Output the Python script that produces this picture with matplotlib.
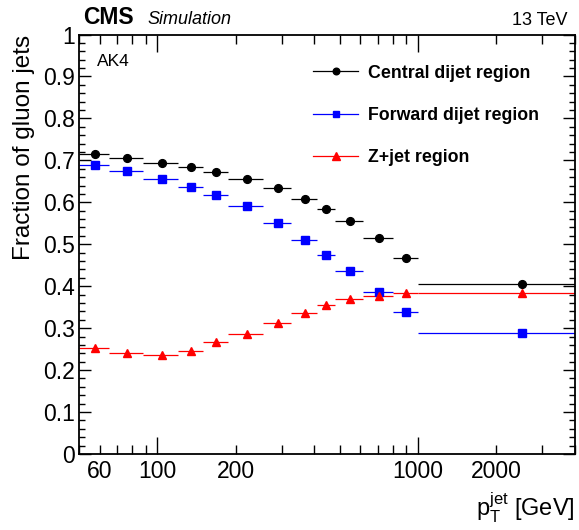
import matplotlib
import numpy as np
matplotlib.use("Agg")
import matplotlib.pyplot as plt
from matplotlib.lines import Line2D
from matplotlib.ticker import FuncFormatter, LogLocator, MultipleLocator

plt.rcParams["font.family"] = ["Liberation Sans", "DejaVu Sans"]

# pT bin edges (GeV) and gluon fractions per bin
bin_edges = [50, 65, 88, 120, 150, 186, 254, 326, 408, 481, 614, 800, 1000, 4000]
central_dijet = [0.716, 0.706, 0.694, 0.683, 0.672, 0.656, 0.633, 0.608, 0.584, 0.556, 0.515, 0.468, 0.406]
forward_dijet = [0.690, 0.674, 0.655, 0.636, 0.617, 0.591, 0.550, 0.511, 0.475, 0.437, 0.386, 0.338, 0.288]
z_jet = [0.252, 0.240, 0.236, 0.246, 0.267, 0.287, 0.313, 0.336, 0.354, 0.369, 0.377, 0.383, 0.383]

series = [
    ("Central dijet region", central_dijet, "black", "o", 5.6),
    ("Forward dijet region", forward_dijet, "#0000ff", "s", 5.4),
    ("Z+jet region", z_jet, "#ff0000", "^", 6.0),
]

edges = np.array(bin_edges, dtype=float)
centers = 0.5 * (edges[:-1] + edges[1:])
half_w = 0.5 * (edges[1:] - edges[:-1])

fig = plt.figure(figsize=(5.79, 5.30), dpi=100)
ax = fig.add_axes([0.1364, 0.1434, 0.993 - 0.1364, 0.9349 - 0.1434])

handles = []
for label, vals, color, marker, ms in series:
    ax.errorbar(centers, vals, xerr=half_w, fmt=marker, color=color,
                ecolor=color, elinewidth=0.9, markersize=ms, capsize=0)
    handles.append(Line2D([], [], color=color, lw=0.9, marker=marker,
                          markersize=ms * 0.85, label=label))

ax.set_xscale("log")
ax.set_xlim(50, 4000)
ax.set_ylim(0, 1)

ax.xaxis.set_major_locator(LogLocator(base=10, subs=(1.0,)))
ax.xaxis.set_minor_locator(LogLocator(base=10, subs=np.arange(2, 10)))
ax.xaxis.set_major_formatter(FuncFormatter(lambda v, p: f"{v:g}"))
ax.xaxis.set_minor_formatter(FuncFormatter(lambda v, p: f"{v:g}" if round(v) in (60, 200, 2000) else ""))
ax.yaxis.set_major_locator(MultipleLocator(0.1))
ax.yaxis.set_minor_locator(MultipleLocator(0.02))
ax.yaxis.set_major_formatter(FuncFormatter(lambda v, p: f"{v:.1f}".rstrip("0").rstrip(".") if v else "0"))

ax.tick_params(axis="both", which="both", direction="in", top=True, right=True,
               labelsize=16.5, width=1.0, colors="black")
ax.tick_params(axis="x", which="major", length=12, pad=4)
ax.tick_params(axis="x", which="minor", length=6.5, pad=4)
ax.tick_params(axis="y", which="major", length=8.6, pad=3)
ax.tick_params(axis="y", which="minor", length=4.3)
for sp in ax.spines.values():
    sp.set_linewidth(1.3)

ax.set_ylabel("Fraction of gluon jets", fontsize=17.5, loc="top", labelpad=6)
ax.set_xlabel(r"$\mathregular{p_{T}^{jet}}$ [GeV]", fontsize=17, loc="right", labelpad=6)

fig.text(0.143, 0.955, "CMS", fontsize=16.5, fontweight="bold", ha="left", va="baseline")
fig.text(0.254, 0.955, "Simulation", fontsize=13, fontstyle="italic", ha="left", va="baseline")
fig.text(0.981, 0.953, "13 TeV", fontsize=13, ha="right", va="baseline")
ax.text(0.036, 0.935, "AK4", fontsize=12.5, transform=ax.transAxes, ha="left", va="center")

ax.legend(handles=handles, loc="upper left", bbox_to_anchor=(0.472, 0.928),
          frameon=False, handlelength=2.55, handletextpad=0.55, labelspacing=1.42,
          prop={"weight": "bold", "size": 12.8}, borderaxespad=0, borderpad=0)

fig.savefig("out.png", dpi=100)
